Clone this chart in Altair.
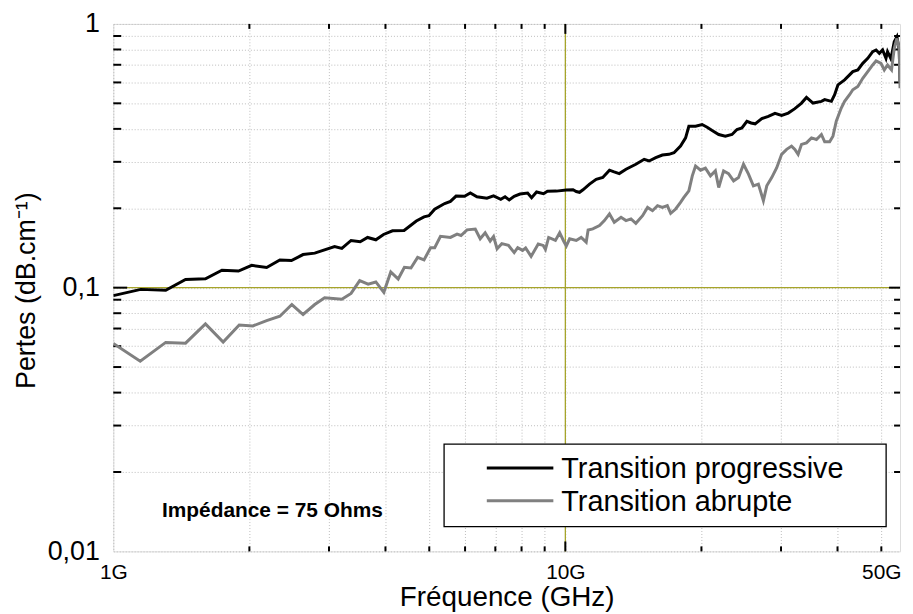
import altair as alt
import pandas as pd

# ---------------- data ----------------
series_names = ["Transition progressive", "Transition abrupte"]
series_colors = ["#000000", "#808080"]

prog_freq = [1.0, 1.15, 1.306, 1.445, 1.599, 1.739, 1.892, 2.024, 2.184, 2.336,
             2.478, 2.629, 2.79, 3.087, 3.203, 3.357, 3.517, 3.652, 3.809, 3.961,
             4.146, 4.398, 4.681, 4.868, 4.992, 5.14, 5.408, 5.569, 5.732, 5.984,
             6.163, 6.375, 6.706, 6.937, 7.197, 7.356, 7.513, 7.706, 7.937, 8.252,
             8.42, 8.636, 8.947, 9.129, 9.555, 10.05, 10.4, 10.57, 10.75, 10.94,
             11.31, 11.7, 12.1, 12.52, 12.82, 13.16, 13.62, 14.32, 14.94, 15.32,
             15.85, 16.39, 16.95, 17.39, 17.98, 18.45, 18.76, 19.41, 20.07, 20.59,
             21.12, 21.84, 22.59, 23.37, 23.97, 24.58, 25.21, 25.76, 26.29, 27.2,
             28.12, 29.09, 30.09, 31.12, 32.19, 33.3, 34.15, 35.31, 36.85, 37.47,
             38.77, 39.42, 40.09, 41.47, 42.53, 43.24, 44.36, 45.49, 46.66, 47.85,
             48.68, 49.5, 50.33, 51.2, 51.61, 52.51, 53.4, 54.13, 54.77, 55.0]
prog_loss = [0.0933, 0.0985, 0.0977, 0.1074, 0.1081, 0.1164, 0.1156, 0.1215, 0.1193, 0.1273,
             0.1267, 0.1335, 0.1352, 0.1431, 0.1408, 0.151, 0.1493, 0.155, 0.1519, 0.1591,
             0.1643, 0.1647, 0.1789, 0.1855, 0.1875, 0.1984, 0.2085, 0.2123, 0.2225, 0.2221,
             0.2285, 0.2211, 0.2183, 0.2227, 0.2164, 0.2211, 0.2151, 0.2221, 0.2264, 0.2284,
             0.2193, 0.2305, 0.227, 0.2319, 0.2323, 0.2344, 0.235, 0.2315, 0.2299, 0.235,
             0.2469, 0.2574, 0.2615, 0.2788, 0.2747, 0.2707, 0.2812, 0.2936, 0.3067, 0.3022,
             0.311, 0.3183, 0.3203, 0.3248, 0.3442, 0.3698, 0.4093, 0.4093, 0.4154, 0.4057,
             0.3943, 0.3808, 0.3753, 0.3808, 0.3978, 0.4033, 0.4275, 0.4212, 0.418, 0.4376,
             0.4464, 0.4581, 0.4502, 0.4593, 0.4772, 0.501, 0.5264, 0.501, 0.5085, 0.5161,
             0.5085, 0.5389, 0.5877, 0.6138, 0.6408, 0.6594, 0.6692, 0.7087, 0.7401, 0.7845,
             0.7961, 0.773, 0.7961, 0.7401, 0.7845, 0.738, 0.8554, 0.8934, 0.7983, 0.6046]

abr_freq = [1.0, 1.147, 1.306, 1.445, 1.599, 1.75, 1.899, 2.036, 2.184, 2.336,
            2.483, 2.629, 2.79, 2.934, 3.203, 3.357, 3.508, 3.662, 3.809, 3.967,
            4.11, 4.268, 4.405, 4.555, 4.712, 4.868, 5.033, 5.14, 5.294, 5.569,
            5.761, 5.878, 6.06, 6.32, 6.481, 6.647, 6.818, 6.937, 7.063, 7.234,
            7.484, 7.706, 7.845, 8.045, 8.168, 8.399, 8.71, 8.933, 9.036, 9.185,
            9.507, 9.716, 9.924, 10.05, 10.22, 10.57, 10.84, 11.12, 11.23, 11.5,
            11.9, 12.2, 12.52, 12.83, 13.28, 13.62, 13.97, 14.32, 14.82, 15.2,
            15.59, 15.99, 16.39, 16.81, 17.1, 17.54, 17.98, 18.29, 18.76, 19.09,
            19.41, 19.91, 20.41, 20.94, 21.47, 21.84, 22.39, 22.96, 23.56, 24.16,
            24.78, 25.42, 26.06, 26.73, 27.42, 27.9, 28.61, 29.35, 30.09, 30.87,
            31.65, 32.19, 32.73, 33.3, 34.15, 35.03, 35.93, 36.85, 37.47, 38.43,
            39.08, 39.75, 40.77, 41.47, 42.53, 43.24, 44.36, 45.49, 46.66, 47.85,
            48.68, 49.92, 50.76, 51.61, 52.67, 53.4, 54.13, 54.77, 55.0]
abr_loss = [0.0614, 0.0526, 0.062, 0.0616, 0.0729, 0.0622, 0.0722, 0.0716, 0.075, 0.0779,
            0.0863, 0.0791, 0.0863, 0.0915, 0.0903, 0.0951, 0.1063, 0.1031, 0.1051, 0.096,
            0.1147, 0.1078, 0.1195, 0.1187, 0.1303, 0.1274, 0.1417, 0.1417, 0.1566, 0.155,
            0.1596, 0.1577, 0.1657, 0.1669, 0.1532, 0.1615, 0.1503, 0.1563, 0.1405, 0.1468,
            0.1446, 0.1358, 0.1417, 0.1384, 0.1414, 0.1314, 0.1464, 0.1446, 0.1396, 0.155,
            0.151, 0.1615, 0.1497, 0.144, 0.1532, 0.151, 0.155, 0.1488, 0.1654, 0.1671,
            0.1719, 0.1796, 0.1904, 0.177, 0.1848, 0.1796, 0.1822, 0.1754, 0.1875, 0.2015,
            0.1958, 0.2045, 0.2015, 0.2045, 0.1913, 0.1987, 0.2105, 0.2198, 0.233, 0.2653,
            0.2893, 0.2788, 0.2837, 0.2653, 0.2771, 0.2397, 0.2771, 0.2707, 0.2541, 0.2615,
            0.2936, 0.2693, 0.2432, 0.2469, 0.2136, 0.2432, 0.2615, 0.2851, 0.3203, 0.3345,
            0.3442, 0.3345, 0.3203, 0.3493, 0.3541, 0.3698, 0.3647, 0.3808, 0.3571, 0.3571,
            0.3753, 0.4275, 0.4797, 0.5085, 0.5389, 0.5627, 0.579, 0.6223, 0.6594, 0.6989,
            0.7238, 0.7087, 0.6692, 0.6989, 0.6692, 0.8071, 0.8805, 0.8071, 0.5705]

# axis ticks / labels
x_tick_values = [1, 2, 3, 4, 5, 6, 7, 8, 9, 10, 20, 30, 40, 50]
x_minor = [2, 3, 4, 5, 6, 7, 8, 9, 20, 30, 40, 50]
x_major = [10]
y_tick_values = [0.01, 0.02, 0.03, 0.04, 0.05, 0.06, 0.07, 0.08, 0.09,
                 0.1, 0.2, 0.3, 0.4, 0.5, 0.6, 0.7, 0.8, 0.9, 1]
y_minor = [0.02, 0.03, 0.04, 0.05, 0.06, 0.07, 0.08, 0.09,
           0.2, 0.3, 0.4, 0.5, 0.6, 0.7, 0.8, 0.9]
y_major = [0.1]
ref_freq = [10]
ref_loss = [0.1]
annotation = "Impédance = 75 Ohms"
x_title = "Fréquence (GHz)"
y_title = "Pertes (dB.cm⁻¹)"

# ---------------- layout ----------------
W, H = 792, 531
FONT = "Liberation Sans"
OLIVE = "#a6a42a"

xscale = alt.Scale(type="log", domain=[1, 55], nice=False)
yscale = alt.Scale(type="log", domain=[0.01, 1], nice=False)

X = alt.X("f:Q", scale=xscale, axis=alt.Axis(
    values=x_tick_values, grid=True, gridDash=[1, 2], gridColor="#bcbcbc", gridWidth=1,
    domain=False, ticks=False, tickSize=0,
    labelExpr="datum.value == 1 ? '1G' : datum.value == 10 ? '10G' : datum.value == 50 ? '50G' : ''",
    labelFontSize=21, labelFont=FONT, labelColor="black", labelPadding=27,
    labelBaseline="alphabetic", labelFlush=False, labelOverlap=False, labelBound=False,
    title=x_title, titleFontSize=28, titleFont=FONT, titleFontWeight="normal",
    titleColor="black", titleX=W / 2, titleY=54, titleBaseline="alphabetic",
    titleAlign="center"))

Y = alt.Y("v:Q", scale=yscale, axis=alt.Axis(
    values=y_tick_values, grid=True, gridDash=[1, 2], gridColor="#bcbcbc", gridWidth=1,
    domain=False, ticks=False, tickSize=0,
    labelExpr="datum.value == 1 ? '1' : datum.value == 0.1 ? '0,1' : datum.value == 0.01 ? '0,01' : ''",
    labelFontSize=27, labelFont=FONT, labelColor="black", labelPadding=14,
    labelAlign="right", labelBaseline="middle", labelFlush=False, labelOverlap=False,
    labelBound=False,
    title=y_title, titleFontSize=27, titleFont=FONT, titleFontWeight="normal",
    titleColor="black", titleAngle=270, titleX=-79, titleY=268,
    titleBaseline="alphabetic", titleAlign="center"))

df_prog = pd.DataFrame({"f": prog_freq, "v": prog_loss})
df_abr = pd.DataFrame({"f": abr_freq, "v": abr_loss})

ref_v = alt.Chart(pd.DataFrame({"f": ref_freq})).mark_rule(
    color=OLIVE, strokeWidth=1.3).encode(x=X)
ref_h = alt.Chart(pd.DataFrame({"v": ref_loss})).mark_rule(
    color=OLIVE, strokeWidth=1.3).encode(y=Y)

line_prog = alt.Chart(df_prog).mark_line(
    color=series_colors[0], strokeWidth=3, clip=True).encode(x=X, y=Y, order="f:Q")
line_abr = alt.Chart(df_abr).mark_line(
    color=series_colors[1], strokeWidth=3, clip=True).encode(x=X, y=Y, order="f:Q")

# inward ticks on the four sides of the frame
ymin_df = pd.DataFrame({"v": y_minor})
ymaj_df = pd.DataFrame({"v": y_major})
xmin_df = pd.DataFrame({"f": x_minor})
xmaj_df = pd.DataFrame({"f": x_major})
tk = dict(color="black", strokeWidth=2)
ticks = [
    alt.Chart(ymin_df).mark_rule(**tk).encode(y=Y, x=alt.value(0), x2=alt.value(8)),
    alt.Chart(ymaj_df).mark_rule(**tk).encode(y=Y, x=alt.value(0), x2=alt.value(14)),
    alt.Chart(ymin_df).mark_rule(**tk).encode(y=Y, x=alt.value(W), x2=alt.value(W - 6)),
    alt.Chart(ymaj_df).mark_rule(**tk).encode(y=Y, x=alt.value(W), x2=alt.value(W - 11)),
    alt.Chart(xmin_df).mark_rule(**tk).encode(x=X, y=alt.value(0), y2=alt.value(5)),
    alt.Chart(xmaj_df).mark_rule(**tk).encode(x=X, y=alt.value(0), y2=alt.value(10)),
    alt.Chart(xmin_df).mark_rule(**tk).encode(x=X, y=alt.value(H), y2=alt.value(H - 5)),
    alt.Chart(xmaj_df).mark_rule(**tk).encode(x=X, y=alt.value(H), y2=alt.value(H - 10)),
]

one = pd.DataFrame({"k": [0]})
note = alt.Chart(one).mark_text(
    text=annotation, font=FONT, fontSize=21, fontWeight="bold", color="black",
    align="left", baseline="alphabetic").encode(x=alt.value(49), y=alt.value(496))

# legend box
legend_box = alt.Chart(one).mark_rect(
    fill="white", stroke="black", strokeWidth=1.3).encode(
    x=alt.value(333), x2=alt.value(778), y=alt.value(423), y2=alt.value(506))
legend_items = []
for i, (name, col) in enumerate(zip(series_names, series_colors)):
    yy = 447 + 33 * i
    legend_items.append(alt.Chart(one).mark_rule(color=col, strokeWidth=3).encode(
        x=alt.value(376), x2=alt.value(443), y=alt.value(yy)))
    legend_items.append(alt.Chart(one).mark_text(
        text=name, font=FONT, fontSize=29, color="black", align="left",
        baseline="alphabetic").encode(x=alt.value(451), y=alt.value(yy + 10)))

chart = alt.layer(
    ref_v, ref_h, *ticks, line_prog, line_abr, note, legend_box, *legend_items
).properties(
    width=W, height=H,
    padding={"left": 106, "top": 14, "right": 5, "bottom": 60},
    autosize=alt.AutoSizeParams(type="none"),
    background="white",
).configure_view(stroke="black", strokeWidth=2).configure(font=FONT)

chart.save("out.html", embed_options={"renderer": "svg", "actions": False})
